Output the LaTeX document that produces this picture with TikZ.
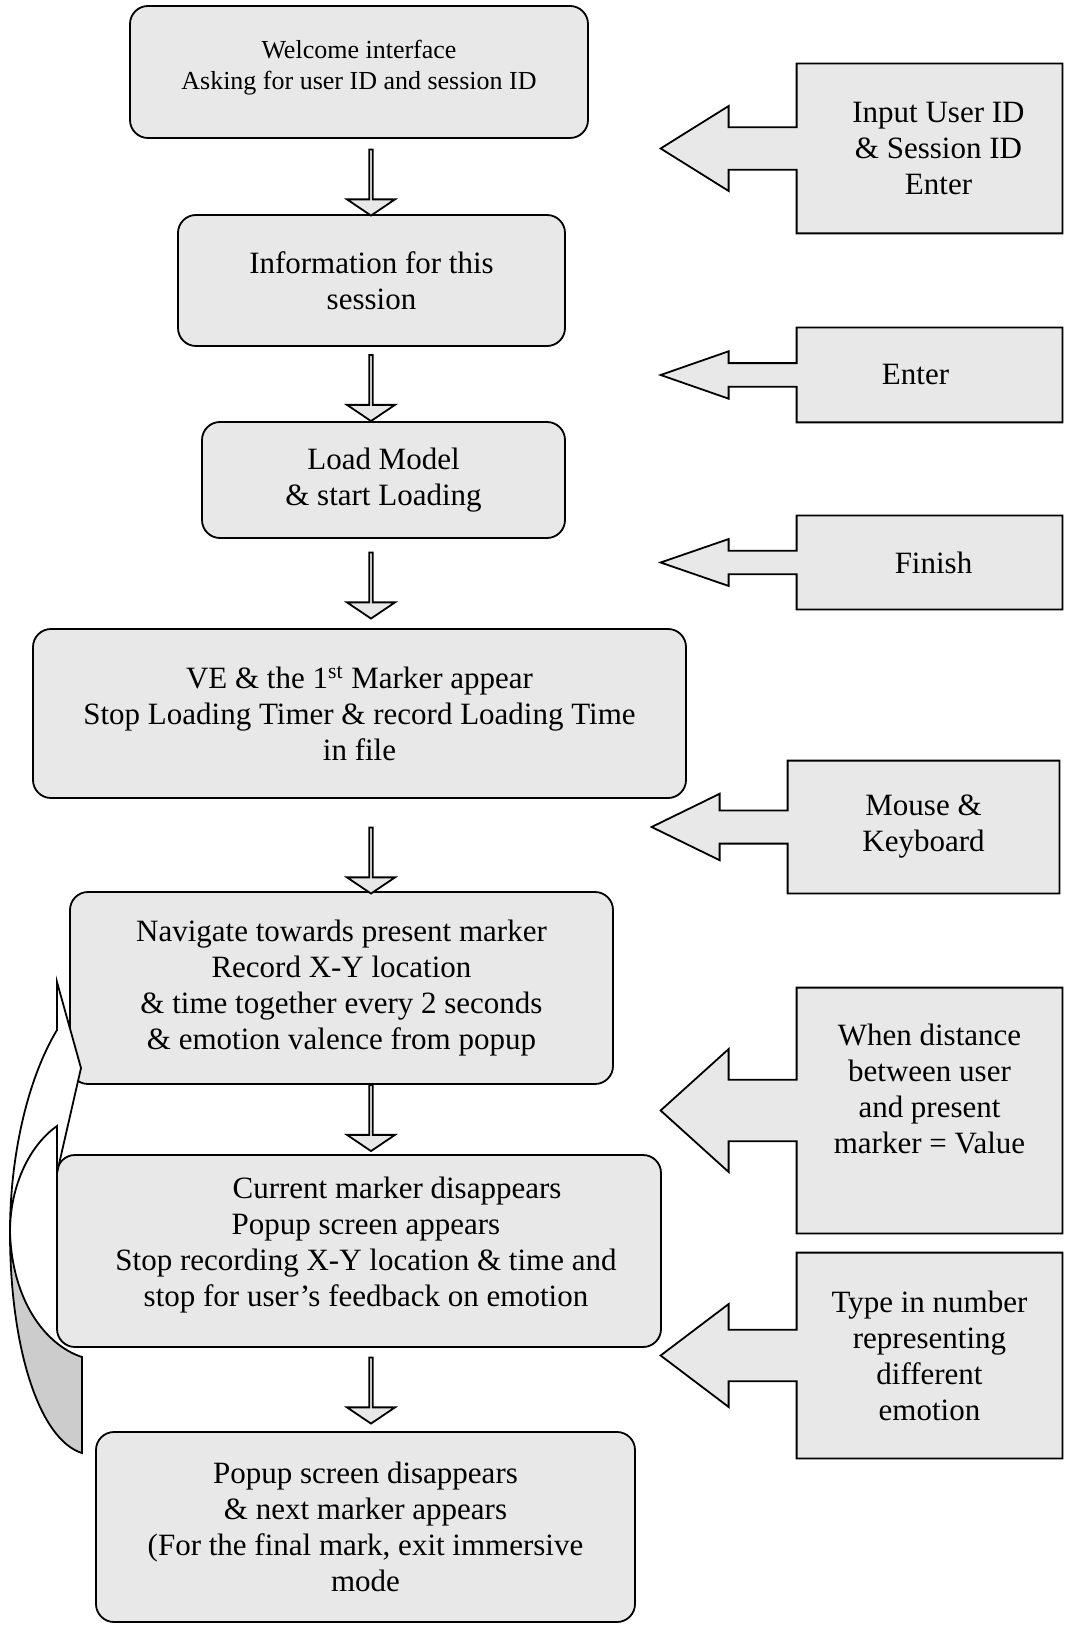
\documentclass[tikz,border=0pt]{standalone}
\usepackage{fontspec}
\setmainfont{Liberation Serif}
\usetikzlibrary{calc, positioning, shapes.arrows, backgrounds}
\definecolor{boxgrey}{HTML}{E8E8E8}
\definecolor{backgrey}{HTML}{CCCCCC}

\begin{document}
\begin{tikzpicture}[x=0.5pt,y=-0.5pt,
    stepbox/.style={draw,line width=0.9pt,fill=boxgrey,rounded corners=9pt,align=center,inner sep=0pt,
      font=\fontsize{15.5}{18}\selectfont},
    callbox/.style={align=center,inner sep=0pt,font=\fontsize{15.5}{18}\selectfont},
    callout/.style={draw,line width=0.9pt,fill=boxgrey,line join=miter},
    downarrow/.style={single arrow,draw,line width=0.9pt,fill=boxgrey,shape border rotate=270,inner sep=0pt,
      minimum height=33pt,minimum width=24pt,single arrow head extend=6pt,single arrow tip angle=112}]
  \useasboundingbox (0,0) rectangle (1064,1625);

  % flow boxes
  \node[stepbox,minimum width=229pt,minimum height=66pt,font=\fontsize{13}{15.5}\selectfont]
    (welcome) at (359,72) {Welcome interface\\Asking for user ID and session ID\\[-8pt]\mbox{}};
  \node[stepbox,minimum width=193.5pt,minimum height=65.5pt] (info) at (371.5,280.5)
    {Information for this\\session};
  \node[stepbox,minimum width=181.5pt,minimum height=58pt] (load) at (383.5,480)
    {Load Model\\\& start Loading};
  \node[stepbox,minimum width=326.5pt,minimum height=84.5pt] (ve) at (359.5,713.5)
    {VE \& the 1\textsuperscript{st} Marker appear\\Stop Loading Timer \& record Loading Time\\in file};
  \node[stepbox,minimum width=271.5pt,minimum height=96pt] (navigate) at (341.5,988)
    {Navigate towards present marker\\Record X-Y location\\\& time together every 2 seconds\\\& emotion valence from popup};
  \node[stepbox,minimum width=302pt,minimum height=96pt] (reach) at (359,1251)
    {\hspace*{38pt}Current marker disappears\\\hspace*{7pt}Popup screen appears\\\hspace*{7pt}Stop recording X-Y location \& time and\\\hspace*{7pt}stop for user’s feedback on emotion\\[-9pt]\mbox{}};
  \node[stepbox,minimum width=269.5pt,minimum height=95pt] (resume) at (365.5,1527)
    {Popup screen disappears\\\& next marker appears\\(For the final mark, exit immersive\\mode};

  % block arrows between boxes
  \node[downarrow] (a1) at (371,182) {};
  \node[downarrow] (a2) at (371,387.5) {};
  \node[downarrow] (a3) at (371,585) {};
  \node[downarrow] (a4) at (371,860) {};
  \node[downarrow] (a5) at (371,1117.5) {};
  \node[downarrow] (a6) at (371,1390) {};

  % user input callouts
  \node[callbox,minimum width=132.5pt,minimum height=84.5pt] (inId) at (929.5,148.5)
    {\hspace*{9pt}Input User ID\\\hspace*{9pt}\& Session ID\\\hspace*{9pt}Enter};
  \node[callbox,minimum width=132.5pt,minimum height=47pt] (inEnter) at (929.5,375) {Enter\hspace*{14pt}};
  \node[callbox,minimum width=132.5pt,minimum height=46.5pt] (inFinish) at (929.5,562.5) {\hspace*{4pt}Finish};
  \node[callbox,minimum width=135.5pt,minimum height=66pt] (inMouse) at (923.5,827)
    {Mouse \&\\Keyboard};
  \node[callbox,minimum width=132.5pt,minimum height=122.5pt] (inDist) at (929.5,1110.5)
    {When distance\\between user\\and present\\marker = Value\\[4pt]\mbox{}};
  \node[callbox,minimum width=132.5pt,minimum height=102.5pt] (inType) at (929.5,1355.5)
    {Type in number\\representing\\different\\emotion};

  \begin{scope}[on background layer]
    \foreach \c in {inId,inEnter,inFinish,inMouse,inDist,inType}
      \draw[callout] let \p1=(\c.north), \p2=(\c.south), \n1={(\y1-\y2)/8}, \n2={(\y1-\y2)/4} in
        (\c.north west) -- (\c.north east) -- (\c.south east) -- (\c.south west)
        -- ($(\c.west)+(0pt,-\n1)$) -- ($(\c.west)+(-34pt,-\n1)$) -- ($(\c.west)+(-34pt,-\n2)$)
        -- ($(\c.west)+(-68pt,0pt)$) -- ($(\c.west)+(-34pt,\n2)$) -- ($(\c.west)+(-34pt,\n1)$)
        -- ($(\c.west)+(0pt,\n1)$) -- cycle;
  \end{scope}

  % loop back arrow on the left
  \draw[line width=0.9pt,fill=backgrey]
    (10,1232) .. controls (10,1350) and (40,1440) .. (82,1453) -- (82,1357)
    .. controls (45,1345) and (12,1300) .. (10,1232) -- cycle;
  \draw[line width=0.9pt,fill=white,line join=miter]
    (57,1030) .. controls (28,1078) and (10,1155) .. (10,1232)
    .. controls (10,1185) and (30,1145) .. (57,1126)
    -- (57,1173) -- (81,1068) -- (57,982) -- cycle;
\end{tikzpicture}
\end{document}
